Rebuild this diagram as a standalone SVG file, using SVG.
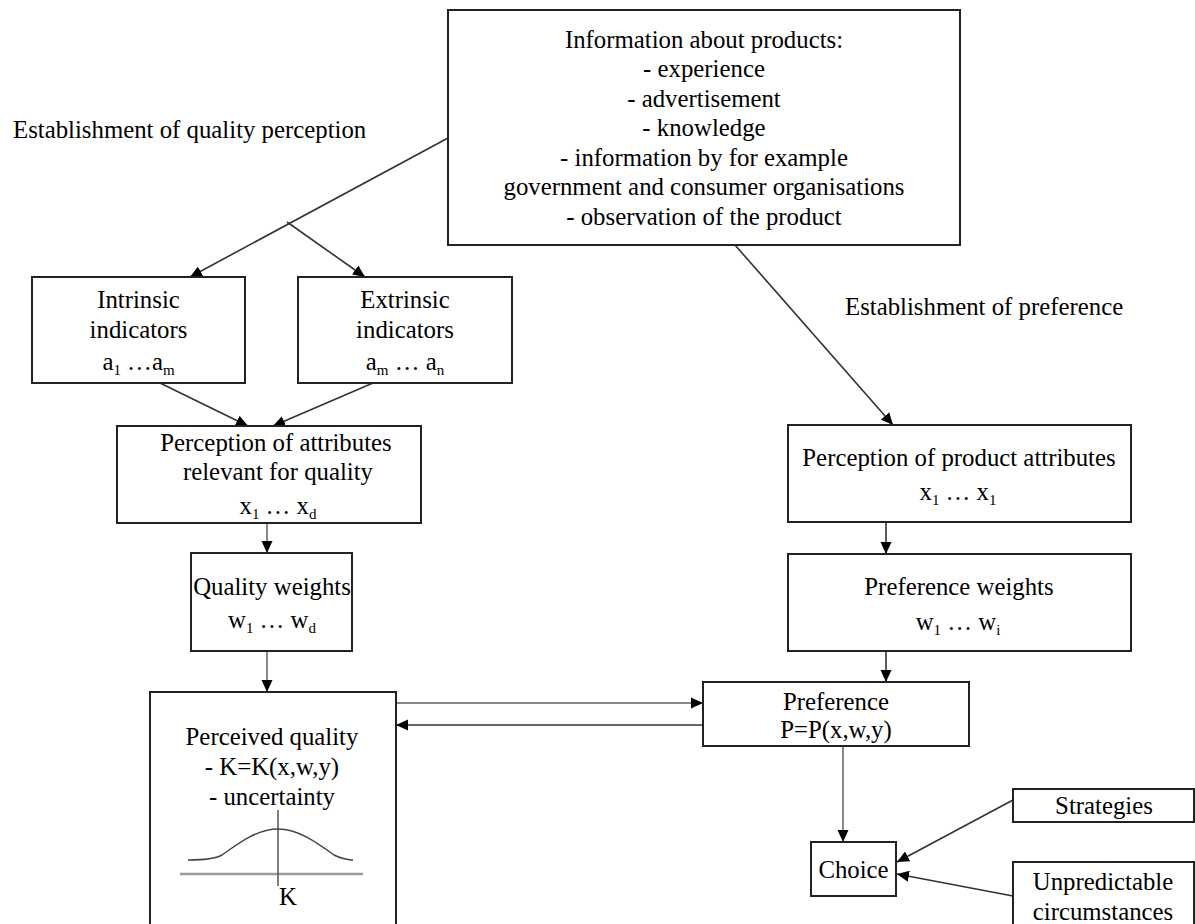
<svg xmlns="http://www.w3.org/2000/svg" width="1195" height="924" viewBox="0 0 1195 924">
<style>
.t{font-family:"Liberation Serif","Times New Roman",serif;font-size:24.8px;fill:#000;text-anchor:middle}
.l{text-anchor:start}
.s{font-size:15px}
.b{fill:#fff;stroke:#222;stroke-width:2}
.c{fill:none;stroke:#333;stroke-width:1.6}
.g{fill:none;stroke:#888;stroke-width:2}
</style>
<defs>
<marker id="a" markerUnits="userSpaceOnUse" markerWidth="12" markerHeight="12" viewBox="0 0 12 12" refX="12" refY="6" orient="auto">
<path d="M0,0.5 L12,6 L0,11.5 z" fill="#000"/>
</marker>
</defs>
<rect width="1195" height="924" fill="#fff"/>

<text class="t l" x="13" y="138">Establishment of quality perception</text>
<text class="t l" x="845" y="315">Establishment of preference</text>

<g id="connectors">
<line class="c" x1="448" y1="138" x2="190" y2="277" marker-end="url(#a)"/>
<line class="c" x1="287" y1="222" x2="365" y2="277" marker-end="url(#a)"/>
<line class="c" x1="735" y1="245" x2="893" y2="425" marker-end="url(#a)"/>
<line class="c" x1="160" y1="383" x2="248" y2="426" marker-end="url(#a)"/>
<line class="c" x1="373" y1="383" x2="273" y2="426" marker-end="url(#a)"/>
<line class="g" x1="267" y1="523" x2="267" y2="553" marker-end="url(#a)"/>
<line class="g" x1="267" y1="651" x2="267" y2="692" marker-end="url(#a)"/>
<line class="g" x1="396" y1="703" x2="703" y2="703" marker-end="url(#a)"/>
<line class="c" x1="703" y1="725" x2="396" y2="725" marker-end="url(#a)"/>
<line class="c" x1="886" y1="522" x2="886" y2="554" marker-end="url(#a)"/>
<line class="c" x1="886" y1="651" x2="886" y2="682" marker-end="url(#a)"/>
<line class="g" x1="843" y1="746" x2="843" y2="842" marker-end="url(#a)"/>
<line class="c" x1="1013" y1="800" x2="897" y2="862" marker-end="url(#a)"/>
<line class="c" x1="1013" y1="896" x2="897" y2="874" marker-end="url(#a)"/>
</g>

<g id="info">
<rect class="b" x="448" y="10" width="512" height="235"/>
<text class="t" x="704" y="48">Information about products:</text>
<text class="t" x="704" y="77">- experience</text>
<text class="t" x="704" y="107">- advertisement</text>
<text class="t" x="704" y="136">- knowledge</text>
<text class="t" x="704" y="166">- information by for example</text>
<text class="t" x="704" y="195">government and consumer organisations</text>
<text class="t" x="704" y="225">- observation of the product</text>
</g>

<g id="intrinsic">
<rect class="b" x="32" y="277" width="213" height="106"/>
<text class="t" x="138.5" y="308">Intrinsic</text>
<text class="t" x="138.5" y="338">indicators</text>
<text class="t" x="138.5" y="370">a<tspan class="s" dy="5">1</tspan><tspan dy="-5"> …a</tspan><tspan class="s" dy="5">m</tspan></text>
</g>

<g id="extrinsic">
<rect class="b" x="298" y="277" width="214" height="106"/>
<text class="t" x="405" y="308">Extrinsic</text>
<text class="t" x="405" y="338">indicators</text>
<text class="t" x="405" y="370">a<tspan class="s" dy="5">m</tspan><tspan dy="-5"> … a</tspan><tspan class="s" dy="5">n</tspan></text>
</g>

<g id="perc-attr">
<rect class="b" x="117" y="426" width="304" height="97"/>
<text class="t" x="276" y="451">Perception of attributes</text>
<text class="t" x="278" y="480">relevant for quality</text>
<text class="t" x="278" y="514">x<tspan class="s" dy="5">1</tspan><tspan dy="-5"> … x</tspan><tspan class="s" dy="5">d</tspan></text>
</g>

<g id="quality-weights">
<rect class="b" x="191" y="553" width="161" height="98"/>
<text class="t" x="272" y="595">Quality weights</text>
<text class="t" x="272" y="628">w<tspan class="s" dy="5">1</tspan><tspan dy="-5"> … w</tspan><tspan class="s" dy="5">d</tspan></text>
</g>

<g id="perceived-quality">
<rect class="b" x="150" y="692" width="246" height="240"/>
<text class="t" x="272" y="745">Perceived quality</text>
<text class="t" x="272" y="775">- K=K(x,w,y)</text>
<text class="t" x="272" y="805">- uncertainty</text>
<line x1="180" y1="874" x2="363" y2="874" stroke="#999" stroke-width="2.5"/>
<line x1="278" y1="810" x2="278" y2="886" stroke="#555" stroke-width="1.5"/>
<path d="M188,860 C205,860 215,859 222,855 C240,842 258,829 278,829 C298,829 316,842 334,855 C341,859 351,860 353,860" fill="none" stroke="#444" stroke-width="1.5"/>
<text class="t" x="288" y="905">K</text>
</g>

<g id="perc-prod">
<rect class="b" x="788" y="425" width="343" height="97"/>
<text class="t" x="959" y="466">Perception of product attributes</text>
<text class="t" x="958" y="500">x<tspan class="s" dy="5">1</tspan><tspan dy="-5"> … x</tspan><tspan class="s" dy="5">1</tspan></text>
</g>

<g id="pref-weights">
<rect class="b" x="788" y="554" width="343" height="97"/>
<text class="t" x="959" y="595">Preference weights</text>
<text class="t" x="958" y="630">w<tspan class="s" dy="5">1</tspan><tspan dy="-5"> … w</tspan><tspan class="s" dy="5">i</tspan></text>
</g>

<g id="preference">
<rect class="b" x="703" y="682" width="266" height="64"/>
<text class="t" x="836" y="710">Preference</text>
<text class="t" x="836" y="738">P=P(x,w,y)</text>
</g>

<g id="choice">
<rect class="b" x="811" y="842" width="85" height="54"/>
<text class="t" x="853.5" y="878">Choice</text>
</g>

<g id="strategies">
<rect class="b" x="1013" y="789" width="181" height="33"/>
<text class="t" x="1104" y="814">Strategies</text>
</g>

<g id="unpredictable">
<rect class="b" x="1013" y="862" width="181" height="70"/>
<text class="t" x="1103" y="890">Unpredictable</text>
<text class="t" x="1103" y="920">circumstances</text>
</g>
</svg>
